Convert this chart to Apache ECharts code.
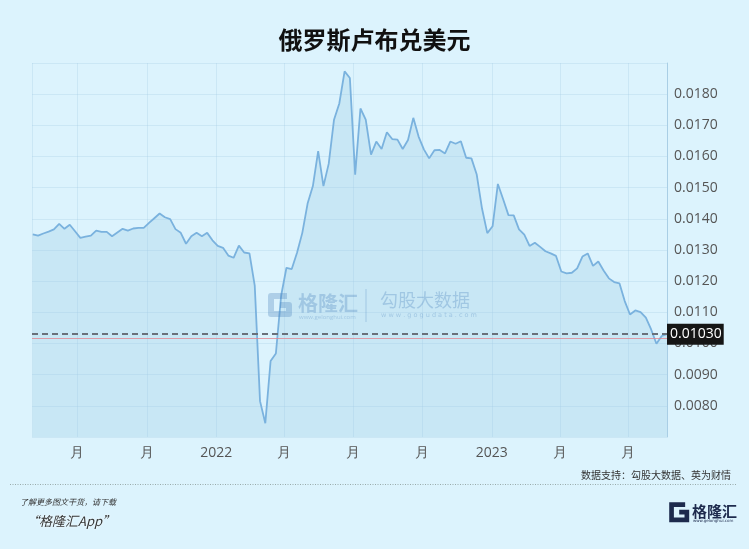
<!DOCTYPE html>
<html><head><meta charset="utf-8">
<script src="https://cdn.jsdelivr.net/npm/echarts@6/dist/echarts.min.js"></script>
<style>html,body{margin:0;padding:0;background:#dcf3fd;}#c{width:749px;height:549px;}</style>
</head><body><div id="c"></div>
<script>
const titleText = '俄罗斯卢布兑美元';
const sourceText = '数据支持：勾股大数据、英为财情';
const firstWeek = [2021, 4, 3];          // first weekly observation: 3 May 2021
const axisStart = [2021, 4, 2];
const axisEnd = [2023, 7, 21];
const rubUsd = [
  0.01350, 0.01346, 0.01353, 0.01359, 0.01366, 0.01384, 0.01368, 0.01381, 0.01360, 0.01339,
  0.01343, 0.01346, 0.01362, 0.01358, 0.01358, 0.01344, 0.01356, 0.01368, 0.01362, 0.01369,
  0.01371, 0.01371, 0.01387, 0.01402, 0.01417, 0.01405, 0.01399, 0.01367, 0.01355, 0.01320,
  0.01344, 0.01355, 0.01344, 0.01355, 0.01331, 0.01313, 0.01307, 0.01282, 0.01275, 0.01314,
  0.01292, 0.01289, 0.01186, 0.00815, 0.00744, 0.00944, 0.00968, 0.01154, 0.01243, 0.01239,
  0.01291, 0.01355, 0.01449, 0.01505, 0.01617, 0.01505, 0.01577, 0.01718, 0.01770, 0.01873,
  0.01852, 0.01542, 0.01754, 0.01718, 0.01606, 0.01648, 0.01624, 0.01678, 0.01656, 0.01654,
  0.01624, 0.01653, 0.01724, 0.01664, 0.01623, 0.01594, 0.01620, 0.01621, 0.01610, 0.01648,
  0.01641, 0.01649, 0.01596, 0.01594, 0.01542, 0.01433, 0.01354, 0.01376, 0.01512, 0.01463,
  0.01412, 0.01411, 0.01366, 0.01349, 0.01313, 0.01323, 0.01310, 0.01296, 0.01289, 0.01281,
  0.01231, 0.01225, 0.01227, 0.01241, 0.01279, 0.01289, 0.01249, 0.01263, 0.01234, 0.01209,
  0.01197, 0.01193, 0.01136, 0.01093, 0.01106, 0.01101, 0.01083, 0.01045, 0.00999, 0.01024, 0.01030
];
const latestPrice = 0.01030;
const refPrice = 0.01018;
const yMin = 0.007, yMax = 0.019, yStep = 0.001;

const weekDates = rubUsd.map((_, i) => new Date(firstWeek[0], firstWeek[1], firstWeek[2] + 7 * i).getTime());
const seriesData = rubUsd.map((v, i) => [weekDates[i], v]);

const wm = 'rgba(70,125,185,0.30)';
const gPath = [[19,3],[3,3],[3,21],[21,21],[21,12],[12,12]];

const chart = echarts.init(document.getElementById('c'), null, {renderer: 'canvas'});
chart.setOption({
  backgroundColor: '#dcf3fd',
  animation: false,
  title: {
    text: titleText, left: 'center', top: 28, padding: 0,
    textStyle: {fontSize: 24, fontWeight: 'bold', color: '#111', fontFamily: 'Noto Sans CJK SC'}
  },
  grid: {left: 32, right: 82, top: 63, bottom: 112},
  xAxis: {
    type: 'time',
    min: new Date(axisStart[0], axisStart[1], axisStart[2]).getTime(),
    max: new Date(axisEnd[0], axisEnd[1], axisEnd[2]).getTime(),
    splitNumber: 9,
    axisLine: {show: false},
    axisTick: {show: false},
    splitLine: {show: true, lineStyle: {color: 'rgba(160,200,225,0.28)', width: 1}},
    axisLabel: {
      color: '#555', fontSize: 14, margin: 9, fontFamily: 'Open Sans',
      hideOverlap: false,
      formatter: function (val) {
        const d = new Date(val);
        if (d.getDate() !== 1) return '';
        return d.getMonth() === 0 ? String(d.getFullYear()) : '月';
      }
    }
  },
  yAxis: {
    type: 'value', position: 'right',
    min: yMin, max: yMax, interval: yStep,
    axisLine: {show: true, lineStyle: {color: 'rgba(160,200,225,0.8)'}},
    axisTick: {show: false},
    splitLine: {show: true, lineStyle: {color: 'rgba(160,200,225,0.28)'}},
    axisLabel: {
      color: '#555', fontSize: 14, margin: 7, fontFamily: 'Open Sans',
      showMinLabel: false, showMaxLabel: false,
      formatter: function (v) {
        if (v < yMin + yStep / 2 || v > yMax - yStep / 2) return '';
        return v.toFixed(4);
      }
    }
  },
  series: [{
    type: 'line', data: seriesData, showSymbol: false, symbol: 'none',
    lineStyle: {color: '#7ab2de', width: 1.8},
    areaStyle: {color: 'rgba(150,200,225,0.40)'},
    markLine: {
      silent: true, symbol: 'none', animation: false, precision: 5,
      data: [
        {yAxis: refPrice, lineStyle: {color: 'rgba(225,130,140,0.75)', type: 'solid', width: 1}, label: {show: false}},
        {yAxis: latestPrice, lineStyle: {color: '#68707a', type: [6, 4], width: 2},
         label: {show: true, position: 'end', distance: 0, formatter: function (p) { return Number(p.value).toFixed(5); },
           color: '#fff', backgroundColor: '#151515', padding: [4, 2, 3, 3], fontSize: 14, fontFamily: 'Open Sans'}}
      ]
    }
  }],
  graphic: [
    {type: 'polyline', x: 268, y: 293, shape: {points: gPath},
     style: {stroke: wm, lineWidth: 6, fill: null, lineJoin: 'round'}, silent: true, z: 10},
    {type: 'text', x: 298, y: 293, style: {text: '格隆汇', fill: wm, font: 'bold 20px "Noto Sans CJK SC"'}, z: 10},
    {type: 'text', x: 299, y: 314, style: {text: 'www.gelonghui.com', fill: wm, font: '6px "Open Sans"'}, z: 10},
    {type: 'line', shape: {x1: 366, y1: 289, x2: 366, y2: 322}, style: {stroke: wm, lineWidth: 1}, z: 10},
    {type: 'text', x: 380, y: 291, style: {text: '勾股大数据', fill: wm, font: '18px "Noto Sans CJK SC"'}, z: 10},
    {type: 'text', x: 381, y: 312, style: {text: 'w w w . g o g u d a t a . c o m', fill: wm, font: '6.5px "DejaVu Sans"'}, z: 10},

    {type: 'text', x: 731, y: 475, style: {text: sourceText, fill: '#333', font: '10px "Noto Sans CJK SC"', textAlign: 'right', textVerticalAlign: 'middle'}},
    {type: 'line', shape: {x1: 10, y1: 484.5, x2: 736, y2: 484.5}, style: {stroke: '#9aa', lineWidth: 1, lineDash: [1, 1.5]}},
    {type: 'text', x: 20, y: 502, style: {text: '了解更多图文干货，请下载', fill: '#333', font: 'italic 8px "Noto Sans CJK SC"', textVerticalAlign: 'middle'}},
    {type: 'text', x: 26, y: 521, style: {text: '“格隆汇App”', fill: '#333', font: 'italic 13px "Noto Sans CJK SC"', textVerticalAlign: 'middle',
      textShadowColor: '#fff', textShadowBlur: 3}},
    {type: 'polyline', x: 669, y: 502, scaleX: 0.85, scaleY: 0.85, shape: {points: gPath},
     style: {stroke: '#1d2a4d', lineWidth: 5.5, fill: null, lineJoin: 'miter'}},
    {type: 'text', x: 692, y: 511, style: {text: '格隆汇', fill: '#1d2a4d', font: 'bold 15px "Noto Sans CJK SC"', textVerticalAlign: 'middle'}},
    {type: 'text', x: 693, y: 521, style: {text: 'www.gelonghui.com', fill: '#1d2a4d', font: '4px "DejaVu Sans"', textVerticalAlign: 'middle'}}
  ]
});
</script></body></html>
